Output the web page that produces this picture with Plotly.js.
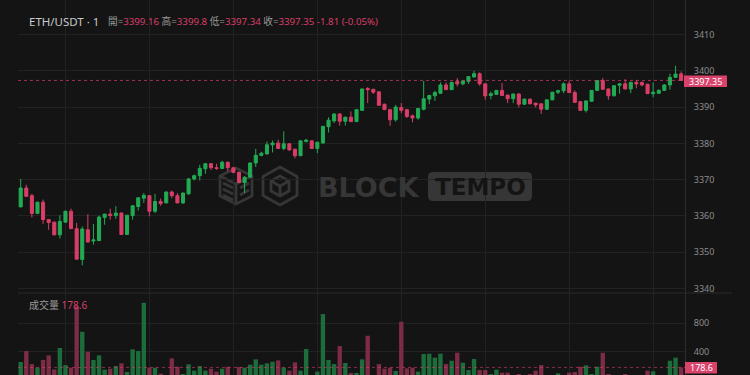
<!DOCTYPE html>
<html><head><meta charset="utf-8">
<script src="https://cdn.plot.ly/plotly-3.0.1.min.js"></script>
<style>html,body{margin:0;padding:0;background:#141414;}#chart{width:750px;height:375px;}</style>
</head><body><div id="chart"></div>
<script>
// ---- data (1-minute ETH/USDT candles) ----
const openP = [3362.5,3367.7,3365.6,3360.7,3363.8,3359.0,3358.3,3354.8,3358.3,3361.3,
3356.5,3348.0,3356.2,3353.1,3353.2,3359.6,3360.5,3360.1,3360.8,3354.9,
3360.1,3362.6,3364.9,3365.6,3361.3,3364.0,3363.6,3366.6,3365.6,3363.6,
3366.1,3370.2,3371.1,3373.0,3374.4,3373.3,3373.1,3374.8,3373.3,3372.0,
3369.2,3370.7,3374.6,3376.7,3377.1,3379.6,3380.1,3378.6,3379.9,3378.4,
3376.6,3380.5,3380.7,3378.6,3380.1,3384.6,3386.2,3388.1,3386.1,3387.2,
3386.0,3389.1,3395.1,3394.9,3394.2,3390.8,3389.3,3386.5,3389.9,3389.3,
3387.6,3387.0,3389.4,3392.2,3393.1,3393.8,3396.1,3394.8,3397.0,3396.4,
3397.1,3398.3,3399.2,3396.4,3393.2,3393.5,3394.6,3393.3,3392.3,3393.6,
3390.8,3392.2,3391.1,3390.9,3389.4,3392.0,3394.1,3394.5,3396.4,3394.0,
3391.5,3389.1,3391.6,3394.6,3397.3,3395.0,3393.1,3396.0,3396.4,3395.0,
3396.8,3396.8,3396.3,3393.7,3393.8,3394.6,3396.1,3398.2,3399.16];
const highP = [3370.2,3368.6,3366.1,3363.9,3364.5,3359.1,3358.4,3360.2,3361.5,3362.0,
3358.1,3357.1,3360.5,3357.8,3360.1,3360.6,3362.0,3362.7,3360.9,3360.3,
3363.0,3365.1,3366.3,3365.7,3366.1,3364.8,3366.7,3367.0,3366.3,3366.5,
3370.5,3371.4,3374.1,3374.5,3374.5,3374.4,3375.2,3375.0,3373.4,3372.3,
3370.9,3374.7,3378.5,3377.7,3380.5,3380.8,3381.0,3383.3,3380.0,3378.5,
3380.8,3381.2,3380.8,3380.5,3384.8,3387.2,3388.3,3388.3,3387.4,3388.8,
3389.4,3395.1,3395.5,3395.0,3394.3,3390.9,3389.4,3390.6,3391.1,3389.4,
3387.9,3389.7,3397.2,3393.4,3394.5,3396.8,3396.8,3397.0,3398.0,3397.3,
3398.5,3400.0,3399.6,3396.5,3394.3,3394.7,3396.6,3393.4,3393.7,3393.8,
3392.3,3392.3,3391.2,3391.0,3392.1,3394.2,3394.8,3396.8,3397.3,3394.6,
3391.6,3391.8,3394.7,3397.4,3398.0,3395.1,3396.0,3396.5,3397.7,3397.0,
3397.5,3397.0,3396.4,3396.8,3394.9,3396.3,3399.2,3401.4,3399.8];
const lowP = [3362.4,3365.3,3359.6,3360.6,3357.8,3356.2,3354.7,3353.8,3358.2,3356.4,
3348.0,3346.4,3352.7,3352.1,3353.1,3357.6,3359.0,3359.2,3354.8,3354.8,
3359.0,3361.5,3363.6,3359.9,3360.8,3362.8,3363.5,3364.9,3363.5,3363.3,
3365.8,3369.8,3369.8,3371.6,3372.7,3372.7,3372.9,3372.3,3371.8,3369.1,
3366.3,3370.6,3373.5,3376.4,3376.9,3377.5,3378.5,3378.1,3378.0,3375.9,
3376.5,3380.3,3378.5,3377.3,3380.0,3383.0,3385.6,3384.9,3384.9,3385.9,
3385.9,3389.0,3391.1,3393.6,3390.4,3389.2,3384.8,3386.0,3388.3,3387.0,
3385.8,3386.5,3389.1,3390.8,3391.7,3393.7,3394.7,3394.7,3395.7,3396.0,
3396.4,3398.2,3395.9,3392.0,3392.2,3393.4,3393.1,3391.1,3391.1,3389.9,
3390.6,3390.8,3389.9,3388.1,3389.3,3391.9,3393.6,3393.8,3393.9,3391.2,
3389.0,3388.5,3391.5,3394.5,3394.8,3392.0,3393.0,3393.7,3394.9,3393.8,
3395.2,3395.7,3393.6,3392.7,3393.6,3394.5,3394.8,3398.1,3397.34];
const closeP = [3367.7,3365.4,3360.7,3363.8,3359.0,3358.2,3354.8,3358.5,3361.3,3356.5,
3348.1,3356.4,3352.8,3353.4,3359.7,3360.5,3360.1,3360.8,3354.9,3360.2,
3362.8,3365.0,3365.7,3361.3,3364.0,3363.4,3366.6,3365.6,3363.6,3366.3,
3370.2,3371.1,3373.1,3374.4,3373.3,3373.1,3374.8,3373.3,3372.0,3369.2,
3370.7,3374.6,3376.7,3377.3,3379.6,3380.1,3378.6,3379.9,3378.2,3376.6,
3380.7,3380.9,3378.6,3380.3,3384.7,3386.4,3388.1,3386.1,3387.2,3386.0,
3389.3,3395.0,3394.8,3394.1,3390.5,3389.3,3386.5,3390.0,3389.1,3387.4,
3387.0,3389.6,3392.3,3393.2,3394.0,3396.1,3394.8,3396.8,3396.4,3397.2,
3398.4,3399.2,3396.4,3393.1,3393.7,3394.6,3393.2,3392.3,3393.6,3390.8,
3392.2,3390.9,3390.6,3389.4,3392.0,3394.1,3394.5,3396.4,3394.0,3391.3,
3389.1,3391.7,3394.6,3397.3,3394.9,3393.1,3395.9,3396.4,3395.0,3396.8,
3396.4,3396.1,3393.7,3394.1,3394.6,3396.1,3398.2,3399.1,3397.35];
const volume = [255,409,226,175,283,348,151,452,212,175,
1040,681,400,283,348,147,161,198,236,114,
433,409,1089,175,175,90,60,306,189,86,
222,133,198,133,161,119,161,189,50,184,
175,217,292,217,236,259,278,175,133,250,
133,438,50,119,930,283,226,480,241,100,
100,292,625,60,226,161,175,128,822,166,
175,119,367,372,316,372,226,273,386,245,
142,297,142,142,86,147,105,105,60,86,
60,86,133,212,60,60,95,60,105,114,
189,208,86,189,386,86,60,70,86,60,
60,60,133,124,60,60,273,316,178.6];
const priceTicks = [3340,3350,3360,3370,3380,3390,3400,3410];
const volumeTicks = [400,800];
const gridMinutes = [8,23,38,53,68,83,98,113];
const lastPrice = 3397.35;
const lastVolume = 178.6;
const symbolText = 'ETH/USDT · 1';
const ohlcLabels = ['開','高','低','收'];
const ohlcValues = ['3399.16','3399.8','3397.34','3397.35'];
const changeText = '-1.81 (-0.05%)';
const volumeLabel = '成交量';

// ---- drawing ----
const UP = '#22ab54', DOWN = '#d93e68', LABEL_RED = '#d9436b';
const VUP = '#1d6d3c', VDOWN = '#7d2c46';
const idx = openP.map((_, i) => i);
const volColors = closeP.map((c, i) => c >= openP[i] ? VUP : VDOWN);
const FONT = 'Noto Sans, "Noto Sans CJK TC", sans-serif';

const W = 750, H = 375, L = 18, R = 65;
const px = X => (X - L) / (W - L - R);
const py = Y => (H - Y) / H;
const splitY = 293;

function roundRect(X0, Y0, X1, Y1, r) {
  const x0 = px(X0), x1 = px(X1), yt = py(Y0), yb = py(Y1);
  const rx = r / (W - L - R), ry = r / H;
  return 'M' + (x0 + rx) + ',' + yt + ' L' + (x1 - rx) + ',' + yt +
    ' Q' + x1 + ',' + yt + ' ' + x1 + ',' + (yt - ry) +
    ' L' + x1 + ',' + (yb + ry) + ' Q' + x1 + ',' + yb + ' ' + (x1 - rx) + ',' + yb +
    ' L' + (x0 + rx) + ',' + yb + ' Q' + x0 + ',' + yb + ' ' + x0 + ',' + (yb + ry) +
    ' L' + x0 + ',' + (yt - ry) + ' Q' + x0 + ',' + yt + ' ' + (x0 + rx) + ',' + yt + ' Z';
}

const traces = [
  {type:'candlestick', x: idx, open: openP, high: highP, low: lowP, close: closeP,
   xaxis:'x', yaxis:'y', whiskerwidth: 0, hoverinfo:'skip',
   increasing:{line:{color:UP,width:1}, fillcolor:UP},
   decreasing:{line:{color:DOWN,width:1}, fillcolor:DOWN}},
  {type:'bar', x: idx, y: volume, xaxis:'x2', yaxis:'y2', width: 0.78,
   marker:{color: volColors, line:{width:0}}, hoverinfo:'skip'}
];

const spanR = t => '<span style="color:' + DOWN + '">' + t + '</span>';
const ohlcText = ohlcLabels.map((l, i) => l + '=' + spanR(ohlcValues[i])).join(' ') + ' ' + spanR(changeText);

const iconSvg = '<svg xmlns="http://www.w3.org/2000/svg" width="82" height="44" viewBox="0 0 82 44">' +
 '<g fill="none" stroke="#363636" stroke-width="2.8" stroke-linejoin="round">' +
 '<path d="M62 3 L79 12.5 L79 31.5 L62 41 L45 31.5 L45 12.5 Z"/>' +
 '<path d="M62 12 L71 17 L71 27 L62 32 L53 27 L53 17 Z"/>' +
 '<path d="M53 17 L62 22 L71 17 M62 22 L62 32"/>' +
 '<path d="M18 4 L34 12 L34 32 L18 40 L2 32 L2 12 Z"/>' +
 '<path d="M2 12 L18 20 L34 12 M18 20 L18 40"/>' +
 '<path d="M5 19 L15 24 M5 25 L15 30 M5 31 L15 36"/>' +
 '<path d="M22 24 L31 19 M22 31 L31 26"/>' +
 '</g></svg>';

const layout = {
  width: W, height: H, margin:{l:L, r:R, t:0, b:0},
  paper_bgcolor:'#141414', plot_bgcolor:'#141414', showlegend:false,
  boxgap: 0.22, bargap: 0.2, font:{family: FONT, color:'#8c8c8c'},
  xaxis:{domain:[0,1], anchor:'y', range:[-0.48, 118.69], tickvals: gridMinutes,
         showticklabels:false, ticks:'', showgrid:true, gridcolor:'#222222', gridwidth:1,
         zeroline:false, showline:false, rangeslider:{visible:false}, fixedrange:true},
  xaxis2:{domain:[0,1], anchor:'y2', matches:'x', range:[-0.48, 118.69], tickvals: gridMinutes,
         showticklabels:false, ticks:'', showgrid:true, gridcolor:'#222222', gridwidth:1,
         zeroline:false, showline:false, rangeslider:{visible:false}, fixedrange:true},
  yaxis:{domain:[py(splitY), 1], anchor:'x', range:[3338.77, 3419.51], side:'right',
         tickvals: priceTicks, showgrid:true, gridcolor:'#222222', zeroline:false,
         showline:true, linecolor:'#2a2d33', linewidth:1, ticks:'', ticklabelstandoff:6,
         tickfont:{size:9, color:'#8c8c8c', family: FONT}, fixedrange:true},
  yaxis2:{domain:[0, py(splitY)], anchor:'x2', range:[72, 1226.8], side:'right',
         tickvals: volumeTicks, showgrid:true, gridcolor:'#222222', zeroline:false,
         showline:true, linecolor:'#2a2d33', linewidth:1, ticks:'', ticklabelstandoff:6,
         tickfont:{size:9, color:'#8c8c8c', family: FONT}, fixedrange:true},
  images:[{source:'data:image/svg+xml;charset=utf-8,' + encodeURIComponent(iconSvg),
           xref:'paper', yref:'paper', x: px(218), y: py(164), sizex: 82/(W-L-R), sizey: 44/H,
           xanchor:'left', yanchor:'top', sizing:'stretch', layer:'below'}],
  shapes:[
    {type:'path', xref:'paper', yref:'paper', path: roundRect(428, 172, 532, 201, 5),
     fillcolor:'#363636', line:{width:0}, layer:'below'},
    {type:'line', xref:'paper', yref:'paper', x0: 0, x1: px(732), y0: py(splitY), y1: py(splitY),
     line:{color:'#2a2a2a', width:1}},
    {type:'line', xref:'paper', yref:'y', x0:0, x1:1, y0: lastPrice, y1: lastPrice,
     line:{color:'rgba(217,62,104,0.75)', width:1, dash:'dot'}},
    {type:'line', xref:'paper', yref:'y2', x0:0, x1:1, y0: lastVolume, y1: lastVolume,
     line:{color:'rgba(217,62,104,0.6)', width:1, dash:'dot'}},
    {type:'rect', xref:'paper', yref:'paper', x0: px(684), x1: px(727), y0: py(87), y1: py(75.5),
     fillcolor: LABEL_RED, line:{width:0}},
    {type:'rect', xref:'paper', yref:'paper', x0: px(685), x1: px(717), y0: py(373.5), y1: py(362),
     fillcolor: LABEL_RED, line:{width:0}}
  ],
  annotations:[
    {xref:'paper', yref:'paper', x: px(27), y: py(22), xanchor:'left', yanchor:'middle', showarrow:false,
     text: symbolText, font:{size:11.5, color:'#c8c8c8', family: FONT}},
    {xref:'paper', yref:'paper', x: px(106), y: py(22), xanchor:'left', yanchor:'middle', showarrow:false,
     text: ohlcText, font:{size:9.7, color:'#9a9a9a', family: FONT}},
    {xref:'paper', yref:'paper', x: px(27), y: py(305), xanchor:'left', yanchor:'middle', showarrow:false,
     text: volumeLabel + ' ' + spanR(String(lastVolume)), font:{size:10, color:'#9a9a9a', family: FONT}},
    {xref:'paper', yref:'paper', x: px(705.5), y: py(81.3), xanchor:'center', yanchor:'middle', showarrow:false,
     text: String(lastPrice), font:{size:9, color:'#ffffff', family: FONT}},
    {xref:'paper', yref:'paper', x: px(701), y: py(367.8), xanchor:'center', yanchor:'middle', showarrow:false,
     text: String(lastVolume), font:{size:9, color:'#ffffff', family: FONT}},
    {xref:'paper', yref:'paper', x: px(369), y: py(187), xanchor:'center', yanchor:'middle', showarrow:false,
     text: '<b>BLOCK</b>', font:{size:27, color:'#363636', family:'DejaVu Sans'}},
    {xref:'paper', yref:'paper', x: px(480), y: py(187), xanchor:'center', yanchor:'middle', showarrow:false,
     text: '<b>TEMPO</b>', font:{size:23, color:'#141414', family:'DejaVu Sans'}}
  ]
};

Plotly.newPlot('chart', traces, layout, {displayModeBar:false, staticPlot:true});
</script>
</body></html>
